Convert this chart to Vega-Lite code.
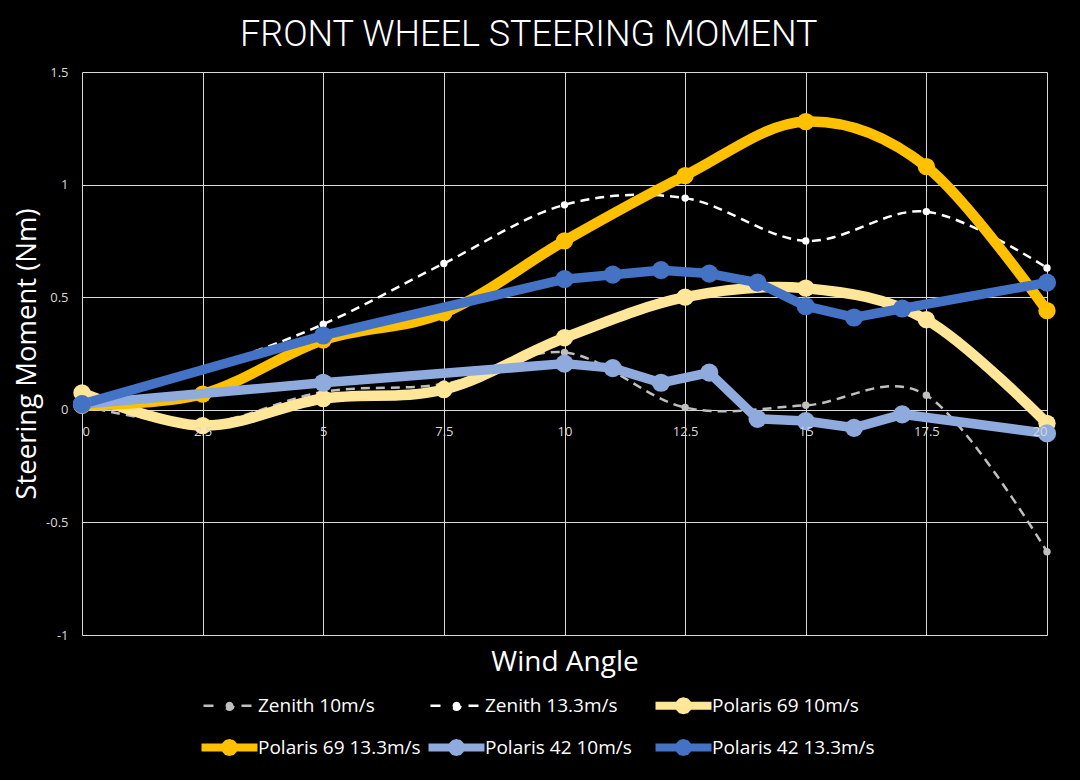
{
  "$schema": "https://vega.github.io/schema/vega-lite/v6.json",
  "width": 965,
  "height": 563,
  "autosize": "none",
  "padding": {"left": 82, "top": 72, "right": 33, "bottom": 145},
  "background": "#000000",
  "title": {
    "text": "FRONT WHEEL STEERING MOMENT",
    "font": "Roboto",
    "fontWeight": 300,
    "fontSize": 36,
    "color": "#ffffff",
    "anchor": "middle",
    "frame": "bounds",
    "offset": 12,
    "dx": -6
  },
  "config": {
    "view": {"stroke": null},
    "axis": {"labelFont": "Open Sans", "titleFont": "Open Sans"},
    "legend": {
      "orient": "none",
      "direction": "horizontal",
      "legendX": 138,
      "legendY": 624,
      "columns": 3,
      "gridAlign": "all",
      "columnPadding": 3,
      "rowPadding": 22,
      "labelFont": "Open Sans",
      "labelFontSize": 19,
      "labelColor": "#ffffff",
      "labelOffset": 19,
      "labelBaseline": "middle",
      "labelLimit": 300
    }
  },
  "data": {
    "values": [
      {"series": "Zenith 10m/s", "angle": 0, "moment": 0.02},
      {"series": "Zenith 10m/s", "angle": 2.5, "moment": -0.06},
      {"series": "Zenith 10m/s", "angle": 5, "moment": 0.08},
      {"series": "Zenith 10m/s", "angle": 7.5, "moment": 0.115},
      {"series": "Zenith 10m/s", "angle": 10, "moment": 0.255},
      {"series": "Zenith 10m/s", "angle": 12.5, "moment": 0.01},
      {"series": "Zenith 10m/s", "angle": 15, "moment": 0.02},
      {"series": "Zenith 10m/s", "angle": 17.5, "moment": 0.065},
      {"series": "Zenith 10m/s", "angle": 20, "moment": -0.63},
      {"series": "Zenith 13.3m/s", "angle": 0, "moment": 0.03},
      {"series": "Zenith 13.3m/s", "angle": 2.5, "moment": 0.18},
      {"series": "Zenith 13.3m/s", "angle": 5, "moment": 0.38},
      {"series": "Zenith 13.3m/s", "angle": 7.5, "moment": 0.65},
      {"series": "Zenith 13.3m/s", "angle": 10, "moment": 0.91},
      {"series": "Zenith 13.3m/s", "angle": 12.5, "moment": 0.94},
      {"series": "Zenith 13.3m/s", "angle": 15, "moment": 0.75},
      {"series": "Zenith 13.3m/s", "angle": 17.5, "moment": 0.88},
      {"series": "Zenith 13.3m/s", "angle": 20, "moment": 0.63},
      {"series": "Polaris 69 10m/s", "angle": 0, "moment": 0.075},
      {"series": "Polaris 69 10m/s", "angle": 2.5, "moment": -0.07},
      {"series": "Polaris 69 10m/s", "angle": 5, "moment": 0.05},
      {"series": "Polaris 69 10m/s", "angle": 7.5, "moment": 0.09},
      {"series": "Polaris 69 10m/s", "angle": 10, "moment": 0.32},
      {"series": "Polaris 69 10m/s", "angle": 12.5, "moment": 0.5},
      {"series": "Polaris 69 10m/s", "angle": 15, "moment": 0.54},
      {"series": "Polaris 69 10m/s", "angle": 17.5, "moment": 0.4},
      {"series": "Polaris 69 10m/s", "angle": 20, "moment": -0.06},
      {"series": "Polaris 69 13.3m/s", "angle": 0, "moment": 0.02},
      {"series": "Polaris 69 13.3m/s", "angle": 2.5, "moment": 0.07},
      {"series": "Polaris 69 13.3m/s", "angle": 5, "moment": 0.31},
      {"series": "Polaris 69 13.3m/s", "angle": 7.5, "moment": 0.43},
      {"series": "Polaris 69 13.3m/s", "angle": 10, "moment": 0.75},
      {"series": "Polaris 69 13.3m/s", "angle": 12.5, "moment": 1.04},
      {"series": "Polaris 69 13.3m/s", "angle": 15, "moment": 1.28},
      {"series": "Polaris 69 13.3m/s", "angle": 17.5, "moment": 1.08},
      {"series": "Polaris 69 13.3m/s", "angle": 20, "moment": 0.44},
      {"series": "Polaris 42 10m/s", "angle": 0, "moment": 0.025},
      {"series": "Polaris 42 10m/s", "angle": 5, "moment": 0.12},
      {"series": "Polaris 42 10m/s", "angle": 10, "moment": 0.205},
      {"series": "Polaris 42 10m/s", "angle": 11, "moment": 0.185},
      {"series": "Polaris 42 10m/s", "angle": 12, "moment": 0.12},
      {"series": "Polaris 42 10m/s", "angle": 13, "moment": 0.165},
      {"series": "Polaris 42 10m/s", "angle": 14, "moment": -0.04},
      {"series": "Polaris 42 10m/s", "angle": 15, "moment": -0.05},
      {"series": "Polaris 42 10m/s", "angle": 16, "moment": -0.08},
      {"series": "Polaris 42 10m/s", "angle": 17, "moment": -0.02},
      {"series": "Polaris 42 10m/s", "angle": 20, "moment": -0.105},
      {"series": "Polaris 42 13.3m/s", "angle": 0, "moment": 0.025},
      {"series": "Polaris 42 13.3m/s", "angle": 5, "moment": 0.33},
      {"series": "Polaris 42 13.3m/s", "angle": 10, "moment": 0.58},
      {"series": "Polaris 42 13.3m/s", "angle": 11, "moment": 0.6},
      {"series": "Polaris 42 13.3m/s", "angle": 12, "moment": 0.62},
      {"series": "Polaris 42 13.3m/s", "angle": 13, "moment": 0.605},
      {"series": "Polaris 42 13.3m/s", "angle": 14, "moment": 0.565},
      {"series": "Polaris 42 13.3m/s", "angle": 15, "moment": 0.46},
      {"series": "Polaris 42 13.3m/s", "angle": 16, "moment": 0.41},
      {"series": "Polaris 42 13.3m/s", "angle": 17, "moment": 0.45},
      {"series": "Polaris 42 13.3m/s", "angle": 20, "moment": 0.565}
    ]
  },
  "encoding": {
    "x": {"field": "angle", "type": "quantitative", "axis": null},
    "y": {
      "field": "moment",
      "type": "quantitative",
      "scale": {"domain": [-1, 1.5], "nice": false, "zero": false},
      "axis": {
        "title": "Steering Moment (Nm)",
        "titleColor": "#ffffff",
        "titleFontSize": 27.5,
        "titleFontWeight": "normal",
        "titlePadding": 4,
        "values": [-1, -0.5, 0, 0.5, 1, 1.5],
        "labelExpr": "'' + datum.value",
        "labelColor": "#d9d9d9",
        "labelFontSize": 13,
        "labelPadding": 14,
        "ticks": false,
        "domain": false,
        "grid": true,
        "gridColor": "#d9d9d9",
        "gridWidth": 1
      }
    },
    "color": {
      "field": "series",
      "type": "nominal",
      "scale": {
        "domain": ["Zenith 10m/s", "Zenith 13.3m/s", "Polaris 69 10m/s", "Polaris 69 13.3m/s", "Polaris 42 10m/s", "Polaris 42 13.3m/s"],
        "range": ["#bfbfbf", "#ffffff", "#ffe699", "#ffc000", "#8faadc", "#4472c4"]
      },
      "legend": {
        "title": null,
        "encode": {
          "symbols": {
            "update": {
              "shape": {"signal": "test(/Zenith/, datum.value) ? 'M -1.3 0 L 1.3 0 M 0.2 0 L 0.173 0.1 L 0.1 0.173 L 0 0.2 L -0.1 0.173 L -0.173 0.1 L -0.2 0 L -0.173 -0.1 L -0.1 -0.173 L 0 -0.2 L 0.1 -0.173 L 0.173 -0.1 Z' : 'M -1.4 0 L 1.4 0 M 0.22 0 L 0.19 0.11 L 0.11 0.19 L 0 0.22 L -0.11 0.19 L -0.19 0.11 L -0.22 0 L -0.19 -0.11 L -0.11 -0.19 L 0 -0.22 L 0.11 -0.19 L 0.19 -0.11 Z'"},
              "size": {"value": 1600},
              "fill": {"scale": "color", "field": "value"},
              "stroke": {"scale": "color", "field": "value"},
              "strokeWidth": {"signal": "test(/Zenith/, datum.value) ? 2.5 : 8"},
              "strokeDash": {"signal": "test(/Zenith/, datum.value) ? [10, 28] : [1, 0]"},
              "strokeJoin": {"value": "round"},
              "opacity": {"value": 1},
              "fillOpacity": {"value": 1}
            }
          }
        }
      }
    }
  },
  "resolve": {"axis": {"x": "independent"}},
  "layer": [
    {
      "transform": [{"filter": "test(/Zenith/, datum.series)"}],
      "mark": {"type": "line", "interpolate": "cardinal", "strokeWidth": 2.5, "strokeDash": [9, 6]},
      "encoding": {
        "x": {
          "field": "angle",
          "type": "quantitative",
          "scale": {"domain": [0, 20], "nice": false},
          "axis": {
            "title": "Wind Angle",
            "titleColor": "#ffffff",
            "titleFontSize": 28,
            "titleFontWeight": "normal",
            "titlePadding": 13,
            "values": [0, 2.5, 5, 7.5, 10, 12.5, 15, 17.5, 20],
            "labels": false,
            "ticks": false,
            "domain": false,
            "grid": true,
            "gridColor": "#d9d9d9",
            "gridWidth": 1
          }
        }
      }
    },
    {
      "transform": [{"filter": "test(/Zenith/, datum.series)"}],
      "mark": {"type": "point", "filled": true, "opacity": 1, "size": 55}
    },
    {
      "transform": [{"filter": "test(/Polaris 69/, datum.series)"}],
      "mark": {"type": "line", "interpolate": "cardinal", "strokeWidth": 10.5, "strokeJoin": "round", "strokeCap": "round"}
    },
    {
      "transform": [{"filter": "test(/Polaris 69/, datum.series)"}],
      "mark": {"type": "point", "filled": true, "opacity": 1, "size": 300}
    },
    {
      "transform": [{"filter": "test(/Polaris 42/, datum.series)"}],
      "mark": {"type": "line", "interpolate": "linear", "strokeWidth": 9.5, "strokeJoin": "round"}
    },
    {
      "transform": [{"filter": "test(/Polaris 42/, datum.series)"}],
      "mark": {"type": "point", "filled": true, "opacity": 1, "size": 330},
      "encoding": {
        "x": {
          "field": "angle",
          "type": "quantitative",
          "axis": {
            "orient": "bottom",
            "offset": -226,
            "title": null,
            "values": [0, 2.5, 5, 7.5, 10, 12.5, 15, 17.5, 20],
            "labelExpr": "'' + datum.value",
            "labelColor": "#d9d9d9",
            "labelFontSize": 13,
            "labelPadding": 16,
            "ticks": false,
            "domain": false,
            "grid": false,
            "zindex": 1
          }
        }
      }
    }
  ]
}
